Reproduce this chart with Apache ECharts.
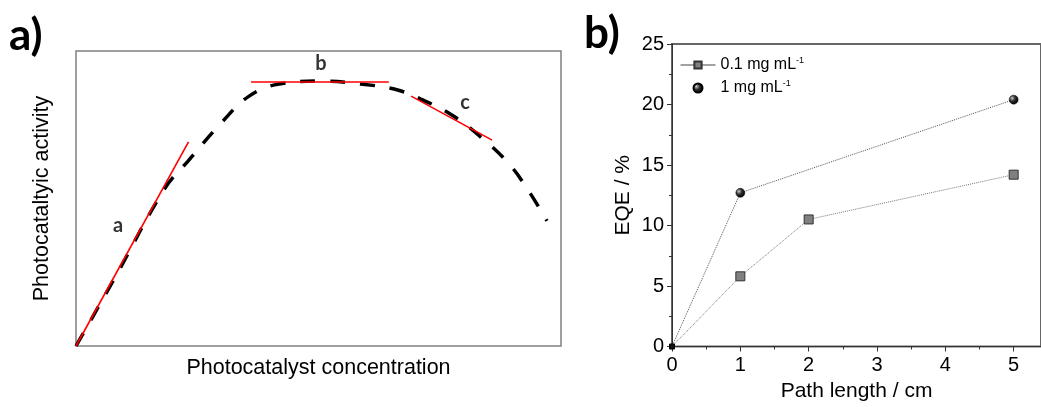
<!DOCTYPE html>
<html>
<head>
<meta charset="utf-8">
<script src="https://cdn.jsdelivr.net/npm/echarts@6/dist/echarts.min.js"></script>
<style>
  html, body { margin: 0; padding: 0; background: #fff; }
  #chart { width: 1041px; height: 407px; }
</style>
</head>
<body>
<div id="chart"></div>
<script>
// panel a: schematic curve (arbitrary units 0-100)
const curveX = [0, 8, 18.3, 23.1, 30.1, 35.7, 41.9, 51.3, 58.6, 65.6, 71.1, 77.5, 83.7, 89.3, 93.2, 97.1]
const curveY = [0, 23.1, 53.4, 62.7, 75.9, 84.7, 88.8, 89.8, 88.8, 87.1, 83.7, 78.3, 70.5, 61.7, 52.9, 42.4]
// tangent segments a, b, c
const lineA = [[0, 0], [23.2, 69.2]]
const lineB = [[36.1, 89.5], [64.5, 89.5]]
const lineC = [[69.1, 84.7], [85.8, 69.8]]
const regionLabels = [['a', 8.7, 40.7], ['b', 50.5, 95.6], ['c', 80.2, 82.4]]

// panel b: EQE vs path length
const lowX = [0, 1, 2, 5]
const lowEQE = [0, 5.8, 10.5, 14.2]
const highX = [0, 1, 5]
const highEQE = [0, 12.7, 20.4]
const seriesNames = ['0.1 mg mL', '1 mg mL']

const chart = echarts.init(document.getElementById('chart'))
const txt = '#000'
const arial = 'Liberation Sans, Arial, sans-serif'

// the origin point is drawn as a small dark dot
const originStyle = { symbolSize: 5, itemStyle: { color: '#111', borderColor: '#000' } }
const toPoints = (xs, ys) => xs.map((x, i) => (x === 0 ? { value: [x, ys[i]], ...originStyle } : [x, ys[i]]))

const option = {
  animation: false,
  graphic: [
    { type: 'text', left: 9, top: 14, style: { text: 'a)', font: 'bold 44px Lato, sans-serif', fill: '#000' } },
    { type: 'text', left: 584, top: 12, style: { text: 'b)', font: 'bold 44px Lato, sans-serif', fill: '#000' } }
  ],
  legend: {
    left: 675,
    top: 51,
    orient: 'vertical',
    itemWidth: 35,
    itemHeight: 9,
    itemGap: 6,
    data: [
      { name: seriesNames[0] },
      { name: seriesNames[1], icon: 'circle' }
    ],
    lineStyle: { type: 'solid', color: '#444', width: 1 },
    textStyle: {
      fontFamily: arial,
      fontSize: 16,
      color: txt,
      rich: {
        s: { fontSize: 9, fontFamily: arial, padding: [0, 0, 9, 0] }
      }
    },
    formatter: name => name + '{s|-1}'
  },
  grid: [
    { left: 76, top: 51, width: 485, height: 295, show: true, borderColor: '#808080', borderWidth: 1.5 },
    { left: 672, top: 44, width: 370, height: 302.5, show: true, borderColor: '#666', borderWidth: 2 }
  ],
  xAxis: [
    {
      gridIndex: 0, type: 'value', min: 0, max: 100,
      axisLine: { show: false }, axisTick: { show: false }, axisLabel: { show: false }, splitLine: { show: false },
      name: 'Photocatalyst concentration', nameLocation: 'middle', nameGap: 11,
      nameTextStyle: { fontFamily: arial, fontSize: 21.5, color: txt }
    },
    {
      gridIndex: 1, type: 'value', min: 0, max: 5.4, interval: 1,
      axisLine: { show: true, lineStyle: { color: '#333', width: 1 } },
      axisTick: { show: true, length: 5, lineStyle: { color: '#333' } },
      minorTick: { show: true, splitNumber: 2, length: 3, lineStyle: { color: '#333' } },
      axisLabel: { fontFamily: arial, fontSize: 20, color: txt, margin: 9, showMaxLabel: false },
      splitLine: { show: false },
      name: 'Path length / cm', nameLocation: 'middle', nameGap: 34,
      nameTextStyle: { fontFamily: arial, fontSize: 21, color: txt }
    }
  ],
  yAxis: [
    {
      gridIndex: 0, type: 'value', min: 0, max: 100,
      axisLine: { show: false }, axisTick: { show: false }, axisLabel: { show: false }, splitLine: { show: false },
      name: 'Photocataltyic activity', nameLocation: 'middle', nameGap: 23,
      nameTextStyle: { fontFamily: arial, fontSize: 21.5, color: txt }
    },
    {
      gridIndex: 1, type: 'value', min: 0, max: 25, interval: 5,
      axisLine: { show: true, lineStyle: { color: '#333', width: 1 } },
      axisTick: { show: true, length: 5, lineStyle: { color: '#333' } },
      minorTick: { show: true, splitNumber: 2, length: 3, lineStyle: { color: '#333' } },
      axisLabel: { fontFamily: arial, fontSize: 20, color: txt, margin: 8 },
      splitLine: { show: false },
      name: 'EQE / %', nameLocation: 'middle', nameGap: 38,
      nameTextStyle: { fontFamily: arial, fontSize: 21, color: txt }
    }
  ],
  series: [
    {
      name: 'curve', type: 'line', xAxisIndex: 0, yAxisIndex: 0,
      data: curveX.map((x, i) => [x, curveY[i]]),
      smooth: 0.4, showSymbol: false,
      lineStyle: { color: '#000', width: 3.5, type: [15, 15] }
    },
    ...[lineA, lineB, lineC].map(seg => ({
      type: 'line', xAxisIndex: 0, yAxisIndex: 0, data: seg, showSymbol: false,
      lineStyle: { color: '#ff0000', width: 1.6 }
    })),
    {
      type: 'scatter', xAxisIndex: 0, yAxisIndex: 0, symbolSize: 0,
      data: regionLabels.map(d => ({ value: [d[1], d[2]], name: d[0] })),
      label: { show: true, position: 'inside', formatter: '{b}', fontFamily: 'Lato, sans-serif', fontWeight: 'bold', fontSize: 20, color: '#000' }
    },
    {
      name: seriesNames[0], type: 'line', xAxisIndex: 1, yAxisIndex: 1,
      data: toPoints(lowX, lowEQE),
      symbol: 'rect', symbolSize: 9,
      itemStyle: { color: '#808080', borderColor: '#333', borderWidth: 1 },
      lineStyle: { color: '#777', width: 1, type: 'dotted' }
    },
    {
      name: seriesNames[1], type: 'line', xAxisIndex: 1, yAxisIndex: 1,
      data: toPoints(highX, highEQE),
      symbol: 'circle', symbolSize: 9,
      itemStyle: {
        color: new echarts.graphic.RadialGradient(0.35, 0.35, 0.65, [
          { offset: 0, color: '#ccc' },
          { offset: 0.45, color: '#333' },
          { offset: 1, color: '#000' }
        ]),
        borderColor: '#000', borderWidth: 0.5
      },
      lineStyle: { color: '#555', width: 1, type: 'dotted' }
    }
  ]
}

chart.setOption(option)
</script>
</body>
</html>
